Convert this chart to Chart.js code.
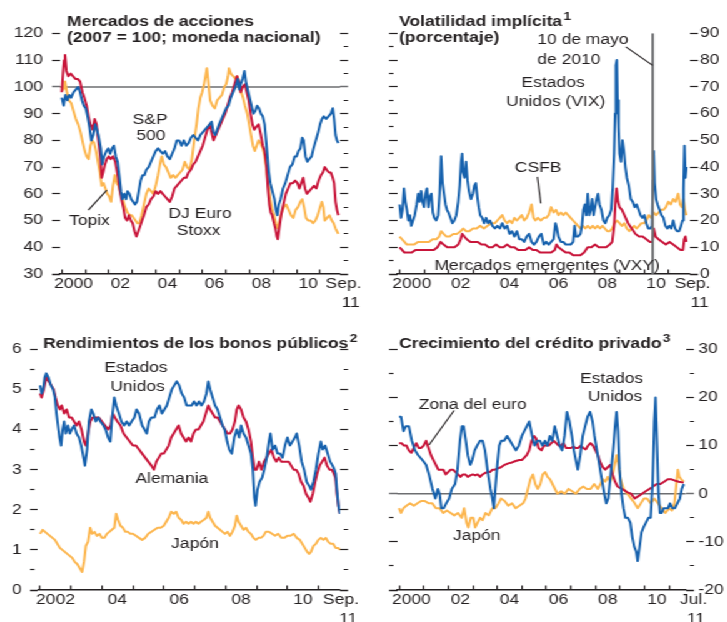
<!DOCTYPE html>
<html>
<head>
<meta charset="utf-8">
<script src="https://cdn.jsdelivr.net/npm/chart.js@4.4.0/dist/chart.umd.min.js"></script>
<style>
html, body { margin: 0; padding: 0; background: #fff; overflow: hidden; }
#wrap { position: absolute; left: 0; top: 0; width: 582px; height: 622px; transform: scaleX(1.25); transform-origin: 0 0; }
canvas { position: absolute; }
</style>
</head>
<body>
<div id="wrap">
  <canvas id="c1" width="291" height="311" style="left:0;top:0"></canvas>
  <canvas id="c2" width="291" height="311" style="left:291px;top:0"></canvas>
  <canvas id="c3" width="291" height="311" style="left:0;top:311px"></canvas>
  <canvas id="c4" width="291" height="311" style="left:291px;top:311px"></canvas>
</div>
<script>
// ---- data: [year, value] ----
// Mercados de acciones (2007 = 100)
var spx = [[2000.0,96],[2000.08,93],[2000.16,97],[2000.24,95],[2000.32,97],[2000.4,96],[2000.5,98],[2000.6,99],[2000.7,100],[2000.78,98],[2000.86,95],[2000.94,93],
  [2001.02,92],[2001.1,89],[2001.18,85],[2001.26,80],[2001.34,82],[2001.42,86],[2001.5,84],[2001.58,81],[2001.66,77],[2001.72,71],[2001.8,74],[2001.9,76],
  [2001.98,77],[2002.06,75],[2002.14,77],[2002.22,78],[2002.3,74],[2002.38,72],[2002.46,66],[2002.52,61],[2002.58,58],[2002.66,60],[2002.74,58],[2002.8,61],[2002.88,60],[2002.96,58],
  [2003.04,57],[2003.12,56],[2003.2,57],[2003.28,61],[2003.36,65],[2003.44,67],[2003.52,67],[2003.6,69],[2003.7,70],[2003.8,72],[2003.9,74],
  [2004.0,76],[2004.1,77],[2004.2,76],[2004.3,75],[2004.4,76],[2004.5,74],[2004.6,73],[2004.7,75],[2004.8,77],[2004.9,80],
  [2005.0,80],[2005.1,78],[2005.2,80],[2005.3,78],[2005.4,79],[2005.5,81],[2005.6,82],[2005.7,81],[2005.8,80],[2005.9,82],
  [2006.0,83],[2006.1,84],[2006.2,85],[2006.3,86],[2006.38,87],[2006.46,83],[2006.54,82],[2006.62,84],[2006.7,86],[2006.8,88],[2006.9,90],
  [2007.0,92],[2007.1,93],[2007.2,96],[2007.3,98],[2007.4,100],[2007.5,103],[2007.56,99],[2007.62,101],[2007.7,103],[2007.78,106],[2007.84,102],[2007.92,99],
  [2008.0,96],[2008.08,93],[2008.16,90],[2008.24,91],[2008.32,93],[2008.4,92],[2008.48,90],[2008.56,89],[2008.64,86],[2008.7,80],[2008.76,74],[2008.82,68],[2008.88,64],[2008.94,62],
  [2009.0,60],[2009.06,58],[2009.12,54],[2009.18,52],[2009.24,56],[2009.32,58],[2009.42,62],[2009.52,64],[2009.62,67],[2009.72,70],[2009.82,71],[2009.92,74],
  [2010.0,74],[2010.08,76],[2010.16,77],[2010.24,81],[2010.3,80],[2010.38,74],[2010.46,72],[2010.54,73],[2010.64,74],[2010.72,77],[2010.82,80],[2010.92,83],
  [2011.0,86],[2011.08,88],[2011.16,89],[2011.26,88],[2011.36,89],[2011.46,90],[2011.54,92],[2011.6,88],[2011.66,82],[2011.72,80],[2011.78,79]];
var stoxx = [[2000.0,98],[2000.06,106],[2000.1,110],[2000.14,112],[2000.2,106],[2000.28,104],[2000.38,105],[2000.48,104],[2000.58,103],[2000.68,103],[2000.78,102],[2000.88,98],[2000.96,96],
  [2001.06,93],[2001.14,89],[2001.22,86],[2001.32,84],[2001.4,88],[2001.48,86],[2001.56,80],[2001.64,74],[2001.7,66],[2001.76,68],[2001.84,71],[2001.92,73],
  [2002.0,74],[2002.08,73],[2002.18,74],[2002.28,72],[2002.38,67],[2002.46,62],[2002.54,58],[2002.62,55],[2002.7,51],[2002.78,50],[2002.86,52],[2002.94,50],
  [2003.02,49],[2003.1,46],[2003.18,44],[2003.26,46],[2003.34,48],[2003.42,50],[2003.5,52],[2003.6,55],[2003.7,56],[2003.8,58],[2003.9,59],
  [2004.0,61],[2004.1,60],[2004.2,61],[2004.3,60],[2004.4,59],[2004.5,58],[2004.6,57],[2004.7,59],[2004.8,62],[2004.9,63],
  [2005.0,64],[2005.1,65],[2005.2,66],[2005.3,66],[2005.4,68],[2005.5,69],[2005.6,71],[2005.7,72],[2005.8,74],[2005.9,76],
  [2006.0,78],[2006.1,81],[2006.2,84],[2006.3,86],[2006.38,83],[2006.46,80],[2006.56,82],[2006.66,84],[2006.76,86],[2006.86,88],[2006.96,90],
  [2007.06,93],[2007.16,96],[2007.26,98],[2007.36,101],[2007.46,104],[2007.54,102],[2007.62,98],[2007.7,100],[2007.8,101],[2007.88,98],[2007.96,95],
  [2008.04,90],[2008.12,86],[2008.2,84],[2008.28,85],[2008.38,86],[2008.48,82],[2008.56,78],[2008.64,76],[2008.72,70],[2008.78,62],[2008.84,56],[2008.9,53],[2008.96,52],
  [2009.04,49],[2009.1,47],[2009.16,44],[2009.2,43],[2009.26,47],[2009.34,52],[2009.44,56],[2009.54,60],[2009.64,62],[2009.74,64],[2009.84,64],[2009.94,65],
  [2010.04,64],[2010.12,62],[2010.2,64],[2010.28,66],[2010.36,62],[2010.44,60],[2010.54,61],[2010.64,62],[2010.74,63],[2010.84,62],[2010.94,65],
  [2011.04,67],[2011.12,68],[2011.2,70],[2011.28,69],[2011.38,68],[2011.46,68],[2011.54,66],[2011.6,64],[2011.66,57],[2011.72,54],[2011.78,52]];
var topix = [[2000.0,100],[2000.07,99],[2000.14,102],[2000.22,98],[2000.3,95],[2000.4,94],[2000.5,91],[2000.6,88],[2000.7,86],[2000.8,83],[2000.9,79],[2000.98,76],
  [2001.06,74],[2001.14,73],[2001.22,78],[2001.3,80],[2001.38,79],[2001.46,76],[2001.54,72],[2001.62,68],[2001.7,63],[2001.78,64],[2001.86,62],[2001.94,60],
  [2002.02,59],[2002.1,57],[2002.18,63],[2002.26,67],[2002.34,64],[2002.42,63],[2002.5,60],[2002.6,58],[2002.7,55],[2002.8,53],[2002.9,52],[2002.98,52],
  [2003.06,51],[2003.14,50],[2003.22,49],[2003.3,49],[2003.4,52],[2003.5,56],[2003.6,60],[2003.7,62],[2003.8,61],[2003.9,60],
  [2004.0,63],[2004.1,67],[2004.2,72],[2004.26,74],[2004.34,71],[2004.44,70],[2004.54,68],[2004.64,66],[2004.74,67],[2004.84,66],[2004.94,67],
  [2005.04,68],[2005.14,69],[2005.24,72],[2005.34,70],[2005.44,69],[2005.54,73],[2005.64,80],[2005.74,86],[2005.82,92],[2005.9,96],[2005.98,98],
  [2006.06,101],[2006.12,104],[2006.18,107],[2006.24,102],[2006.32,95],[2006.42,93],[2006.52,92],[2006.62,95],[2006.72,96],[2006.82,97],[2006.92,100],
  [2007.0,101],[2007.08,104],[2007.12,107],[2007.2,105],[2007.3,104],[2007.4,103],[2007.48,104],[2007.56,100],[2007.64,98],[2007.72,96],[2007.8,93],[2007.9,90],
  [2007.98,86],[2008.06,82],[2008.14,78],[2008.22,76],[2008.3,78],[2008.38,80],[2008.46,79],[2008.56,77],[2008.64,74],[2008.72,69],[2008.8,63],[2008.88,58],[2008.96,54],
  [2009.04,52],[2009.12,49],[2009.2,47],[2009.28,50],[2009.36,53],[2009.46,55],[2009.56,56],[2009.66,54],[2009.76,52],[2009.86,51],[2009.96,54],
  [2010.06,55],[2010.16,57],[2010.24,58],[2010.32,55],[2010.4,51],[2010.5,50],[2010.6,50],[2010.7,49],[2010.8,50],[2010.9,52],
  [2011.0,55],[2011.08,57],[2011.14,55],[2011.2,50],[2011.3,51],[2011.4,52],[2011.5,50],[2011.58,49],[2011.66,47],[2011.72,46],[2011.78,45]];
var stockBase = 100;

// Volatilidad implicita (porcentaje)
var vix = [[2000.0,26],[2000.06,21],[2000.12,24],[2000.18,32],[2000.24,27],[2000.3,24],[2000.36,20],[2000.42,22],[2000.48,18],[2000.55,20],[2000.62,22],[2000.7,26],[2000.76,30],[2000.82,27],[2000.88,31],[2000.94,27],
  [2001.0,25],[2001.06,30],[2001.12,32],[2001.18,25],[2001.24,29],[2001.3,30],[2001.36,23],[2001.42,21],[2001.5,20],[2001.58,22],[2001.64,30],[2001.7,44],[2001.76,34],[2001.82,30],[2001.88,26],[2001.94,24],
  [2002.0,23],[2002.08,21],[2002.16,19],[2002.24,20],[2002.32,22],[2002.4,27],[2002.46,33],[2002.52,42],[2002.56,45],[2002.6,38],[2002.66,36],[2002.72,42],[2002.78,35],[2002.84,31],[2002.92,28],
  [2003.0,30],[2003.06,33],[2003.12,34],[2003.18,29],[2003.24,25],[2003.3,22],[2003.38,21],[2003.46,19],[2003.54,21],[2003.62,19],[2003.7,20],[2003.8,18],[2003.9,17],
  [2004.0,18],[2004.1,17],[2004.2,19],[2004.3,17],[2004.4,18],[2004.5,15],[2004.6,16],[2004.7,14],[2004.8,16],[2004.9,13],
  [2005.0,13],[2005.1,12],[2005.2,14],[2005.3,15],[2005.4,12],[2005.5,11],[2005.6,12],[2005.7,14],[2005.8,15],[2005.9,11],
  [2006.0,12],[2006.1,11],[2006.2,12],[2006.3,13],[2006.38,19],[2006.44,17],[2006.5,14],[2006.6,12],[2006.7,12],[2006.8,11],[2006.9,11],
  [2007.0,11],[2007.1,12],[2007.16,18],[2007.22,14],[2007.3,14],[2007.4,15],[2007.46,18],[2007.52,24],[2007.58,26],[2007.64,22],[2007.7,30],[2007.76,22],[2007.82,24],[2007.88,28],[2007.94,22],
  [2008.0,25],[2008.06,28],[2008.12,30],[2008.18,26],[2008.26,24],[2008.34,20],[2008.42,19],[2008.5,21],[2008.58,22],[2008.66,24],[2008.72,32],[2008.78,45],[2008.82,60],[2008.85,78],[2008.89,80],[2008.92,65],[2008.96,55],
  [2009.0,45],[2009.06,42],[2009.12,50],[2009.18,46],[2009.24,40],[2009.3,36],[2009.38,33],[2009.46,28],[2009.54,27],[2009.62,25],[2009.7,26],[2009.78,24],[2009.86,22],[2009.94,21],
  [2010.02,22],[2010.1,19],[2010.18,17],[2010.26,17],[2010.33,18],[2010.37,35],[2010.4,46],[2010.44,34],[2010.5,28],[2010.56,26],[2010.64,24],[2010.72,22],[2010.8,21],[2010.88,18],[2010.96,17],
  [2011.04,18],[2011.12,17],[2011.2,20],[2011.28,17],[2011.36,16],[2011.44,16],[2011.52,18],[2011.58,20],[2011.62,32],[2011.66,48],[2011.7,36],[2011.74,40]];
var csfb = [[2000.0,14],[2000.1,13],[2000.2,12],[2000.3,11],[2000.45,11],[2000.6,11],[2000.75,12],[2000.9,12],[2001.05,12],[2001.2,12],[2001.35,13],[2001.5,13],[2001.62,14],[2001.7,16],[2001.8,15],[2001.92,14],
  [2002.05,14],[2002.2,15],[2002.35,15],[2002.5,16],[2002.6,17],[2002.72,16],[2002.85,16],[2003.0,17],[2003.15,17],[2003.3,18],[2003.45,17],[2003.6,18],[2003.75,19],[2003.9,19],
  [2004.0,20],[2004.1,21],[2004.2,22],[2004.3,20],[2004.4,19],[2004.5,20],[2004.6,19],[2004.7,21],[2004.8,20],[2004.9,21],
  [2005.0,22],[2005.1,20],[2005.2,21],[2005.3,23],[2005.4,26],[2005.48,21],[2005.56,20],[2005.66,21],[2005.78,20],[2005.9,21],
  [2006.0,21],[2006.1,22],[2006.2,25],[2006.3,23],[2006.4,24],[2006.5,22],[2006.6,23],[2006.7,22],[2006.8,23],[2006.9,22],
  [2007.0,21],[2007.1,20],[2007.2,19],[2007.3,18],[2007.4,17],[2007.5,18],[2007.6,17],[2007.7,18],[2007.8,17],[2007.9,18],
  [2008.0,17],[2008.1,18],[2008.2,17],[2008.3,18],[2008.4,17],[2008.5,16],[2008.6,16],[2008.7,17],[2008.8,19],[2008.9,20],
  [2009.0,19],[2009.1,18],[2009.2,19],[2009.3,17],[2009.4,16],[2009.5,17],[2009.6,18],[2009.7,17],[2009.8,18],[2009.9,19],
  [2010.0,19],[2010.1,20],[2010.2,22],[2010.3,21],[2010.4,23],[2010.5,22],[2010.6,23],[2010.7,24],[2010.8,24],[2010.9,25],
  [2011.0,27],[2011.1,26],[2011.2,28],[2011.3,27],[2011.4,30],[2011.48,26],[2011.56,25],[2011.62,28],[2011.68,24],[2011.74,22]];
var vxy = [[2000.0,10],[2000.1,9],[2000.2,8],[2000.35,8],[2000.5,8],[2000.65,9],[2000.8,9],[2000.95,9],[2001.1,9],[2001.25,9],[2001.4,9],[2001.55,10],[2001.68,12],[2001.8,11],[2001.95,10],
  [2002.1,10],[2002.25,10],[2002.4,11],[2002.5,13],[2002.56,15],[2002.65,14],[2002.75,13],[2002.9,12],[2003.05,12],[2003.2,12],[2003.35,11],[2003.5,11],[2003.65,10],[2003.8,10],[2003.95,11],
  [2004.1,10],[2004.25,10],[2004.4,11],[2004.55,10],[2004.7,10],[2004.85,9],[2005.0,9],[2005.15,9],[2005.3,10],[2005.45,9],[2005.6,9],[2005.75,8],[2005.9,8],
  [2006.05,8],[2006.2,8],[2006.35,9],[2006.42,11],[2006.5,10],[2006.65,9],[2006.8,8],[2006.95,8],[2007.1,7],[2007.25,7],[2007.4,7],[2007.55,8],[2007.7,10],[2007.85,10],
  [2008.0,11],[2008.15,10],[2008.3,10],[2008.45,10],[2008.6,11],[2008.7,12],[2008.78,18],[2008.84,28],[2008.88,32],[2008.94,27],[2009.0,25],[2009.1,24],[2009.2,22],[2009.35,19],[2009.5,17],[2009.65,15],[2009.8,14],[2009.95,14],
  [2010.1,13],[2010.25,12],[2010.35,12],[2010.4,17],[2010.48,14],[2010.6,13],[2010.75,12],[2010.9,11],[2011.05,12],[2011.2,11],[2011.35,10],[2011.5,9],[2011.6,9],[2011.65,13],[2011.7,14],[2011.74,12]];
var flashCrash = 2010.36;

// Rendimientos de los bonos publicos
var bondUS = [[2002.0,5.1],[2002.05,4.9],[2002.1,5.0],[2002.15,5.3],[2002.2,5.4],[2002.27,5.3],[2002.35,5.1],[2002.42,5.0],[2002.48,4.8],[2002.53,4.4],[2002.58,4.1],[2002.63,3.8],[2002.68,3.6],[2002.73,4.0],[2002.78,4.2],[2002.83,3.9],[2002.9,4.1],[2002.96,3.9],
  [2003.02,4.0],[2003.1,4.1],[2003.18,3.9],[2003.26,3.8],[2003.33,3.6],[2003.38,3.4],[2003.45,3.1],[2003.52,3.5],[2003.58,4.2],[2003.66,4.5],[2003.72,4.4],[2003.8,4.2],[2003.88,4.3],[2003.95,4.2],
  [2004.05,4.1],[2004.12,4.0],[2004.2,3.8],[2004.27,3.7],[2004.33,4.3],[2004.4,4.8],[2004.46,4.6],[2004.55,4.4],[2004.63,4.2],[2004.72,4.1],[2004.8,4.2],[2004.88,4.1],[2004.96,4.2],
  [2005.05,4.3],[2005.12,4.5],[2005.2,4.4],[2005.3,4.1],[2005.38,4.0],[2005.45,3.9],[2005.52,4.2],[2005.6,4.3],[2005.7,4.3],[2005.78,4.5],[2005.86,4.6],[2005.94,4.4],
  [2006.02,4.5],[2006.1,4.6],[2006.18,4.8],[2006.26,5.0],[2006.34,5.1],[2006.42,5.2],[2006.5,5.1],[2006.58,4.9],[2006.66,4.8],[2006.74,4.6],[2006.82,4.6],[2006.9,4.6],
  [2006.98,4.7],[2007.06,4.6],[2007.14,4.7],[2007.22,4.6],[2007.3,4.7],[2007.38,4.9],[2007.44,5.2],[2007.5,5.0],[2007.58,4.8],[2007.66,4.6],[2007.74,4.5],[2007.82,4.3],[2007.9,4.1],[2007.97,4.0],
  [2008.05,3.7],[2008.12,3.5],[2008.2,3.4],[2008.28,3.8],[2008.36,4.0],[2008.44,3.8],[2008.5,4.1],[2008.58,3.9],[2008.66,3.8],[2008.74,3.6],[2008.82,3.4],[2008.88,3.0],[2008.93,2.3],[2008.97,2.1],
  [2009.03,2.5],[2009.1,2.7],[2009.18,2.8],[2009.25,3.0],[2009.33,3.3],[2009.4,3.7],[2009.45,3.9],[2009.52,3.5],[2009.6,3.6],[2009.68,3.4],[2009.76,3.4],[2009.84,3.3],[2009.92,3.6],
  [2010.0,3.8],[2010.08,3.6],[2010.16,3.7],[2010.24,3.8],[2010.3,3.9],[2010.38,3.6],[2010.46,3.2],[2010.54,3.0],[2010.62,2.7],[2010.7,2.6],[2010.76,2.5],[2010.84,2.7],[2010.92,3.0],
  [2011.0,3.4],[2011.08,3.7],[2011.14,3.5],[2011.22,3.6],[2011.3,3.4],[2011.38,3.2],[2011.46,3.1],[2011.52,3.0],[2011.56,2.9],[2011.6,2.5],[2011.65,2.1],[2011.7,1.9]];
var bondDE = [[2002.0,4.9],[2002.05,4.8],[2002.12,5.0],[2002.2,5.3],[2002.28,5.2],[2002.36,5.1],[2002.44,5.0],[2002.5,4.8],[2002.57,4.6],[2002.64,4.5],[2002.7,4.6],[2002.78,4.4],[2002.86,4.5],[2002.94,4.3],
  [2003.02,4.3],[2003.1,4.2],[2003.18,4.1],[2003.26,4.2],[2003.34,4.0],[2003.42,3.7],[2003.48,3.6],[2003.55,3.9],[2003.62,4.2],[2003.7,4.3],[2003.8,4.3],[2003.9,4.3],
  [2004.0,4.2],[2004.1,4.1],[2004.2,4.0],[2004.28,4.1],[2004.35,4.4],[2004.42,4.3],[2004.5,4.2],[2004.6,4.1],[2004.7,3.9],[2004.8,3.8],[2004.9,3.7],
  [2005.0,3.6],[2005.1,3.6],[2005.2,3.5],[2005.3,3.4],[2005.4,3.3],[2005.5,3.2],[2005.6,3.1],[2005.68,3.0],[2005.76,3.2],[2005.84,3.3],[2005.92,3.4],
  [2006.0,3.4],[2006.08,3.5],[2006.16,3.6],[2006.24,3.8],[2006.32,3.9],[2006.4,4.0],[2006.48,4.1],[2006.56,3.9],[2006.64,3.8],[2006.72,3.7],[2006.8,3.8],[2006.88,3.7],[2006.96,3.9],
  [2007.04,4.0],[2007.12,4.0],[2007.2,4.1],[2007.28,4.2],[2007.36,4.4],[2007.44,4.6],[2007.5,4.5],[2007.58,4.4],[2007.66,4.3],[2007.74,4.3],[2007.82,4.2],[2007.9,4.1],[2007.98,4.0],
  [2008.06,3.9],[2008.14,3.9],[2008.22,4.0],[2008.3,4.2],[2008.36,4.5],[2008.42,4.6],[2008.5,4.5],[2008.58,4.3],[2008.66,4.2],[2008.74,4.0],[2008.82,3.7],[2008.88,3.3],[2008.94,3.0],
  [2009.0,3.0],[2009.08,3.2],[2009.16,3.0],[2009.24,3.2],[2009.32,3.3],[2009.4,3.4],[2009.48,3.5],[2009.56,3.3],[2009.64,3.2],[2009.72,3.3],[2009.8,3.2],[2009.88,3.2],[2009.96,3.2],
  [2010.04,3.2],[2010.12,3.1],[2010.2,3.0],[2010.28,3.0],[2010.36,2.9],[2010.44,2.7],[2010.52,2.6],[2010.6,2.4],[2010.68,2.3],[2010.74,2.2],[2010.82,2.4],[2010.9,2.7],[2010.96,2.9],
  [2011.04,3.1],[2011.12,3.2],[2011.2,3.3],[2011.28,3.1],[2011.36,3.0],[2011.44,3.0],[2011.5,2.9],[2011.55,2.8],[2011.6,2.4],[2011.65,2.1],[2011.7,1.9]];
var bondJP = [[2002.0,1.4],[2002.08,1.5],[2002.16,1.45],[2002.24,1.4],[2002.32,1.35],[2002.4,1.3],[2002.48,1.25],[2002.56,1.15],[2002.64,1.05],[2002.72,1.0],[2002.8,0.95],[2002.88,0.9],[2002.96,0.85],
  [2003.04,0.8],[2003.12,0.7],[2003.2,0.65],[2003.28,0.55],[2003.36,0.45],[2003.42,0.7],[2003.48,1.1],[2003.55,1.2],[2003.62,1.55],[2003.68,1.4],[2003.76,1.45],[2003.84,1.35],[2003.92,1.4],
  [2004.0,1.3],[2004.08,1.3],[2004.16,1.4],[2004.24,1.45],[2004.32,1.5],[2004.4,1.55],[2004.46,1.9],[2004.52,1.75],[2004.6,1.6],[2004.68,1.55],[2004.76,1.45],[2004.84,1.45],[2004.92,1.4],
  [2005.0,1.4],[2005.1,1.35],[2005.2,1.3],[2005.3,1.25],[2005.4,1.3],[2005.5,1.4],[2005.6,1.45],[2005.7,1.5],[2005.8,1.55],[2005.9,1.55],
  [2006.0,1.6],[2006.08,1.7],[2006.16,1.8],[2006.24,1.95],[2006.32,1.9],[2006.4,1.95],[2006.48,1.8],[2006.56,1.75],[2006.64,1.65],[2006.72,1.7],[2006.8,1.65],[2006.88,1.7],[2006.96,1.65],
  [2007.04,1.7],[2007.12,1.65],[2007.2,1.7],[2007.3,1.75],[2007.38,1.8],[2007.44,1.95],[2007.5,1.8],[2007.58,1.7],[2007.66,1.6],[2007.74,1.55],[2007.82,1.5],[2007.9,1.45],[2007.98,1.4],
  [2008.06,1.45],[2008.14,1.35],[2008.22,1.45],[2008.3,1.6],[2008.36,1.85],[2008.42,1.7],[2008.5,1.6],[2008.58,1.5],[2008.66,1.55],[2008.74,1.45],[2008.82,1.4],[2008.9,1.3],[2008.98,1.25],
  [2009.06,1.3],[2009.14,1.3],[2009.22,1.35],[2009.3,1.45],[2009.4,1.45],[2009.5,1.4],[2009.6,1.35],[2009.7,1.4],[2009.8,1.3],[2009.9,1.3],
  [2010.0,1.35],[2010.1,1.35],[2010.2,1.4],[2010.3,1.3],[2010.4,1.25],[2010.48,1.15],[2010.56,1.05],[2010.64,0.95],[2010.7,0.9],[2010.76,0.95],[2010.84,1.1],[2010.92,1.15],
  [2011.0,1.25],[2011.08,1.3],[2011.16,1.25],[2011.24,1.3],[2011.32,1.2],[2011.4,1.15],[2011.48,1.15],[2011.56,1.05],[2011.64,1.05],[2011.7,1.0]];

// Crecimiento del credito privado
var creditUS = [[2000.0,16],[2000.08,16],[2000.18,13],[2000.27,14],[2000.4,14],[2000.52,11],[2000.65,9],[2000.78,8],[2000.95,7],
  [2001.1,6],[2001.22,4],[2001.36,1],[2001.48,-1],[2001.58,1],[2001.65,0],[2001.72,-3],[2001.82,-3],[2001.92,-2],
  [2002.04,-1],[2002.15,1],[2002.28,2],[2002.38,5],[2002.48,11],[2002.56,14],[2002.63,14],[2002.72,11],[2002.8,8],[2002.9,6],[2002.98,7],
  [2003.08,9],[2003.18,10],[2003.3,11],[2003.4,11],[2003.5,9],[2003.6,5],[2003.72,1],[2003.8,-1],[2003.86,-3],[2003.92,1],
  [2004.0,6],[2004.08,10],[2004.16,11],[2004.28,11],[2004.4,12],[2004.52,11],[2004.64,10],[2004.76,9],[2004.88,10],
  [2005.0,12],[2005.1,13],[2005.2,14],[2005.3,15],[2005.42,12],[2005.52,10],[2005.62,11],[2005.74,11],[2005.84,10],[2005.94,11],
  [2006.04,10],[2006.14,12],[2006.24,11],[2006.34,14],[2006.44,12],[2006.54,10],[2006.64,9],[2006.74,12],[2006.84,17],[2006.94,15],
  [2007.04,12],[2007.12,9],[2007.2,7],[2007.28,5],[2007.38,8],[2007.48,12],[2007.58,14],[2007.68,16],[2007.78,17],[2007.88,15],[2007.96,12],
  [2008.06,9],[2008.16,6],[2008.26,3],[2008.36,0],[2008.44,-2],[2008.52,-1],[2008.62,4],[2008.72,9],[2008.8,14],[2008.86,17],[2008.92,13],[2008.98,5],
  [2009.06,0],[2009.14,-3],[2009.22,-5],[2009.32,-5],[2009.42,-6],[2009.5,-9],[2009.58,-11],[2009.66,-12],[2009.72,-14],[2009.8,-11],[2009.88,-8],[2009.96,-7],
  [2010.06,-6],[2010.16,-5],[2010.25,-5],[2010.33,2],[2010.4,15],[2010.45,20],[2010.5,12],[2010.57,0],[2010.63,-4],[2010.7,-4],[2010.78,-3],[2010.88,-3],[2010.96,-3],
  [2011.04,-2],[2011.14,-3],[2011.24,-3],[2011.34,-2],[2011.44,-1],[2011.52,1],[2011.6,2]];
var creditEA = [[2000.0,10.5],[2000.1,10.5],[2000.2,10],[2000.3,10],[2000.4,9],[2000.5,8.5],[2000.6,9.5],[2000.7,10.5],[2000.8,9.5],[2000.9,9.5],[2001.0,10],[2001.1,11],[2001.2,9.5],[2001.3,8],[2001.4,7],[2001.5,6],[2001.6,5],[2001.7,5],[2001.8,5],[2001.9,4],
  [2002.0,4.5],[2002.1,5],[2002.2,5],[2002.3,4.5],[2002.4,4],[2002.5,3.5],[2002.6,4],[2002.7,4],[2002.8,3.5],[2002.9,3.8],[2003.0,4],[2003.1,3.8],[2003.2,4],[2003.3,3.5],[2003.4,4],[2003.5,4.3],[2003.6,4.5],[2003.7,4.5],[2003.8,5],[2003.9,5],
  [2004.0,5.2],[2004.15,5.5],[2004.3,6],[2004.45,6.3],[2004.6,6.5],[2004.75,6.8],[2004.9,7],[2005.0,7],[2005.1,7.5],[2005.2,8],[2005.3,9],[2005.4,11],[2005.5,12],[2005.58,11.5],[2005.68,9.5],[2005.8,9],[2005.9,10],
  [2006.0,10],[2006.1,10],[2006.2,10.5],[2006.3,11],[2006.4,10.5],[2006.5,10],[2006.6,10],[2006.7,10.5],[2006.8,9.5],[2006.9,9.5],[2007.0,9.5],[2007.1,9.8],[2007.2,9.5],[2007.3,9.5],[2007.4,10],[2007.5,9.5],[2007.6,9.2],[2007.7,10],[2007.8,10.5],[2007.9,10],
  [2008.0,9],[2008.1,8],[2008.2,6.5],[2008.3,5.5],[2008.4,5],[2008.5,5.5],[2008.6,6],[2008.7,4],[2008.8,2.5],[2008.9,1.5],[2009.0,1.2],[2009.15,0.8],[2009.3,0.3],[2009.45,0],[2009.6,-1],[2009.75,-0.5],[2009.9,0],
  [2010.05,0.5],[2010.2,1],[2010.35,1.5],[2010.5,2],[2010.65,2],[2010.8,2.5],[2010.95,3],[2011.1,3],[2011.25,2.7],[2011.4,2.5],[2011.6,2.3]];
var creditJP = [[2000.0,-3],[2000.08,-4],[2000.18,-3],[2000.3,-2.5],[2000.45,-2],[2000.6,-2.5],[2000.75,-2],[2000.9,-1.5],[2001.05,-1.5],[2001.2,-2],[2001.35,-2],[2001.5,-3],[2001.65,-3],[2001.8,-4],[2001.95,-3.5],
  [2002.1,-4],[2002.25,-4.5],[2002.4,-4],[2002.55,-5],[2002.65,-3],[2002.75,-6],[2002.82,-7],[2002.92,-5],[2003.02,-5],[2003.1,-7],[2003.2,-6],[2003.3,-5],[2003.4,-5.5],[2003.52,-4],[2003.65,-4.5],[2003.8,-3],[2003.92,-3],
  [2004.05,-2],[2004.15,-1],[2004.3,-1.5],[2004.45,-2.5],[2004.6,-2],[2004.75,-3],[2004.9,-2.5],[2005.05,-2],[2005.15,-1],[2005.25,1],[2005.35,3],[2005.45,4],[2005.55,2],[2005.65,1],[2005.75,2],[2005.85,4],[2005.95,4.5],
  [2006.05,3.5],[2006.15,3],[2006.3,1.5],[2006.45,0],[2006.6,0.5],[2006.75,0],[2006.9,1],[2007.05,0.5],[2007.2,0],[2007.35,1],[2007.5,1.5],[2007.65,1],[2007.8,1],[2007.95,2],
  [2008.1,1],[2008.2,2],[2008.3,3],[2008.4,2.5],[2008.5,3.5],[2008.6,2.5],[2008.7,4],[2008.78,6],[2008.86,8],[2008.94,6],[2009.02,3],[2009.15,1],[2009.3,0],[2009.45,-1],[2009.6,-2],[2009.72,-3],[2009.85,-2],[2009.98,-1],
  [2010.1,-1],[2010.25,-2],[2010.4,-1],[2010.55,-2],[2010.7,-3],[2010.85,-4],[2011.0,-3],[2011.12,-3.5],[2011.22,-2],[2011.3,2],[2011.36,5],[2011.42,3.5],[2011.5,3],[2011.6,2.5]];
var creditZero = 0;

// axis ticks and labels
var yearsA = [2000,2001,2002,2003,2004,2005,2006,2007,2008,2009,2010,2011];
var yearsB = [2002,2003,2004,2005,2006,2007,2008,2009,2010,2011];
var labels1 = ['2000','02','04','06','08','10',['Sep.','   11']];
var labelPos1 = [2000.5,2002.5,2004.5,2006.5,2008.5,2010.5,2012.0];
var labels2 = ['2000','02','04','06','08','10',['Sep.','   11']];
var labelPos2 = [2000.5,2002.5,2004.5,2006.5,2008.5,2010.5,2011.99];
var labels3 = ['2002','04','06','08','10',['Sep.','   11']];
var labelPos3 = [2002.5,2004.5,2006.5,2008.5,2010.5,2011.73];
var labels4 = ['2000','02','04','06','08','10',['Jul.',' 11']];
var labelPos4 = [2000.5,2002.5,2004.5,2006.5,2008.5,2010.5,2012.0];

// ---- styles ----
var ink = '#231f20', blue = '#1661ad', red = '#c8153a', gold = '#fcb64f', grey = '#6d6e71';
var FONT = '"Liberation Sans", Arial, Helvetica, sans-serif';
Chart.defaults.font.family = FONT;
Chart.defaults.font.size = 14;
Chart.defaults.color = ink;

var annotations = {
  c1: { title: ['Mercados de acciones', '(2007 = 100; moneda nacional)'], tx: 53.6, ty: 25.5, sup: '',
        labels: [['S&P', 2003.76, 86.1], ['500', 2003.8, 80.1], ['Topix', 2001.18, 48.3], ['DJ Euro', 2005.89, 50.8], ['Stoxx', 2005.83, 44.6]],
        leaders: [[2001.13, 53.9, 2001.92, 61.4]] },
  c2: { title: ['Volatilidad implícita', '(porcentaje)'], tx: 28.2, ty: 25.5, sup: '1',
        labels: [['10 de mayo', 2005.63, 86.1, 'left'], ['de 2010', 2005.63, 78.7, 'left'], ['Estados', 2006.28, 69.9], ['Unidos (VIX)', 2006.39, 62.7],
                 ['CSFB', 2005.67, 38.2], ['Mercados emergentes (VXY)', 2006.04, 1.5]],
        leaders: [[2009.26, 84.9, 2010.36, 78], [2005.64, 36.3, 2005.78, 26.4]] },
  c3: { title: ['Rendimientos de los bonos públicos'], tx: 34.4, ty: 37, sup: '2',
        labels: [['Estados', 2005.1, 5.43], ['Unidos', 2005.15, 4.95], ['Alemania', 2006.26, 2.66], ['Japón', 2007.01, 1.04]],
        leaders: [] },
  c4: { title: ['Crecimiento del crédito privado'], tx: 28.2, ty: 37, sup: '3',
        labels: [['Zona del euro', 2003.0, 17.7], ['Estados', 2008.66, 23.0], ['Unidos', 2008.8, 19.3], ['Japón', 2003.16, -9.6]],
        leaders: [[2002.24, 17.3, 2001.22, 10.1]] }
};

var annotate = {
  id: 'annotate',
  afterDatasetsDraw: function(chart) {
    var a = annotations[chart.canvas.id];
    var ctx = chart.ctx, sx = chart.scales.x, sy = chart.scales.y;
    ctx.save();
    ctx.fillStyle = ink;
    ctx.strokeStyle = ink;
    ctx.lineWidth = 1.1;
    a.leaders.forEach(function(l) {
      ctx.beginPath();
      ctx.moveTo(sx.getPixelForValue(l[0]), sy.getPixelForValue(l[1]));
      ctx.lineTo(sx.getPixelForValue(l[2]), sy.getPixelForValue(l[3]));
      ctx.stroke();
    });
    ctx.font = '14px ' + FONT;
    ctx.textBaseline = 'alphabetic';
    a.labels.forEach(function(t) {
      ctx.textAlign = t[3] || 'center';
      ctx.fillText(t[0], sx.getPixelForValue(t[1]), sy.getPixelForValue(t[2]));
    });
    ctx.textAlign = 'left';
    a.title.forEach(function(line, i) {
      ctx.font = 'bold 14px ' + FONT;
      ctx.fillText(line, a.tx, a.ty + i * 16);
      if (i == 0 && a.sup) {
        var w = ctx.measureText(line).width;
        ctx.font = 'bold 11px ' + FONT;
        ctx.fillText(a.sup, a.tx + w + 1, a.ty - 6);
      }
    });
    ctx.restore();
  }
};

function series(points, color, width) {
  return {
    data: points.map(function(p) { return {x: p[0], y: p[1]}; }),
    borderColor: color, borderWidth: width || 2, pointRadius: 0, tension: 0,
    borderJoinStyle: 'round', fill: false
  };
}

function isMinor(v, major) {
  return Math.abs(v / major - Math.round(v / major)) > 1e-6;
}

// y axis: tick marks point outward, minor ticks are half length on the outer side;
// the bottom tick continues the x baseline and refValue's tick continues the reference line
function yAxis(pos, min, max, step, major, labelled, width, pad, refValue) {
  return {
    type: 'linear', position: pos, min: min, max: max,
    afterFit: function(s) { s.width = width; },
    border: { display: false },
    grid: {
      drawOnChartArea: false, tickLength: 6.4,
      tickColor: function(c) { return (c.tick && c.tick.value === refValue) ? grey : ink; },
      tickWidth: function(c) { return (c.tick && (c.tick.value === min || c.tick.value === refValue)) ? 1.5 : 1.2; },
      tickBorderDash: function(c) {
        if (!c.tick || !isMinor(c.tick.value, major)) return [];
        return pos == 'left' ? [3.5, 10] : [0, 2.9, 3.5, 0];
      }
    },
    ticks: {
      display: labelled, stepSize: step, padding: pad, color: ink,
      callback: function(v) { return isMinor(v, major) ? '' : v; }
    }
  };
}

// x axes: year ticks rise from the baseline (bottom end of each grid line), labels on a second axis
function xAxes(min, max, years, labelPos, labels, height) {
  return {
    x: {
      type: 'linear', position: 'bottom', min: min, max: max,
      afterBuildTicks: function(s) { s.ticks = years.map(function(v) { return {value: v}; }); },
      afterFit: function(s) { s.height = 0; },
      ticks: { display: false },
      grid: { drawOnChartArea: true, drawTicks: false, color: ink, lineWidth: 1.2 },
      border: {
        display: true, color: ink, width: 1.5,
        dash: function(c) {
          var a = c.chart.chartArea;
          return [0, a.bottom - a.top - 4.5, 8, 0];
        }
      }
    },
    x2: {
      type: 'linear', position: 'bottom', weight: 1, min: min, max: max,
      afterBuildTicks: function(s) { s.ticks = labelPos.map(function(v) { return {value: v}; }); },
      afterFit: function(s) { s.height = height; },
      ticks: { autoSkip: false, maxRotation: 0, padding: 0, color: ink, font: { size: 14, lineHeight: 1.4 },
               callback: function(v, i) { return labels[i]; } },
      grid: { display: false, drawTicks: false, tickLength: 0 },
      border: { display: false }
    }
  };
}

function makePanel(id, datasets, padding, yLeft, yRight, xs) {
  var scales = { y: yLeft, y2: yRight };
  scales.x = xs.x;
  scales.x2 = xs.x2;
  return new Chart(document.getElementById(id), {
    type: 'line',
    data: { datasets: datasets },
    options: {
      responsive: false, animation: false, events: [],
      layout: { autoPadding: false, padding: padding },
      plugins: { legend: { display: false }, tooltip: { enabled: false } },
      scales: scales
    },
    plugins: [annotate]
  });
}

// Panel 1: Mercados de acciones
var x1min = 1999.928, x1max = 2011.853;
makePanel('c1',
  [series(spx, blue), series(stoxx, red), series(topix, gold),
   series([[x1min, stockBase], [x1max, stockBase]], grey, 1.5)],
  { left: 0, right: 12.6, top: 33.5, bottom: 0 },
  yAxis('left', 30, 120, 5, 10, true, 48, 7.2, stockBase),
  yAxis('right', 30, 120, 5, 10, false, 6.4, 0, stockBase),
  xAxes(x1min, x1max, yearsA, labelPos1, labels1, 37));

// Panel 2: Volatilidad implicita
var x2min = 1999.898, x2max = 2011.886;
makePanel('c2',
  [series([[flashCrash, 0], [flashCrash, 90]], grey, 2), series(vix, blue), series(vxy, red), series(csfb, gold)],
  { left: 0, right: 0, top: 33.3, bottom: 0 },
  yAxis('left', 0, 90, 5, 10, false, 26.6, 0),
  yAxis('right', 0, 90, 5, 10, true, 30, 1.6),
  xAxes(x2min, x2max, yearsA, labelPos2, labels2, 37));

// Panel 3: Rendimientos de los bonos publicos
var x3min = 2001.935, x3max = 2011.702;
makePanel('c3',
  [series(bondUS, blue), series(bondDE, red), series(bondJP, gold)],
  { left: 0, right: 12.6, top: 38.3, bottom: 0 },
  yAxis('left', 0, 6, 0.5, 1, true, 30.4, 6.8),
  yAxis('right', 0, 6, 0.5, 1, false, 6.4, 0),
  xAxes(x3min, x3max, yearsB, labelPos3, labels3, 32));

// Panel 4: Crecimiento del credito privado
var x4min = 1999.919, x4max = 2011.69;
makePanel('c4',
  [series(creditUS, blue), series(creditEA, red), series(creditJP, gold),
   series([[x4min, creditZero], [x4max, creditZero]], grey, 1.5)],
  { left: 0, right: 0, top: 38.3, bottom: 0 },
  yAxis('left', -20, 30, 5, 10, false, 26.6, 0, creditZero),
  yAxis('right', -20, 30, 5, 10, true, 33.2, 3.6, creditZero),
  xAxes(x4min, x4max, yearsA, labelPos4, labels4, 32));
</script>
</body>
</html>
